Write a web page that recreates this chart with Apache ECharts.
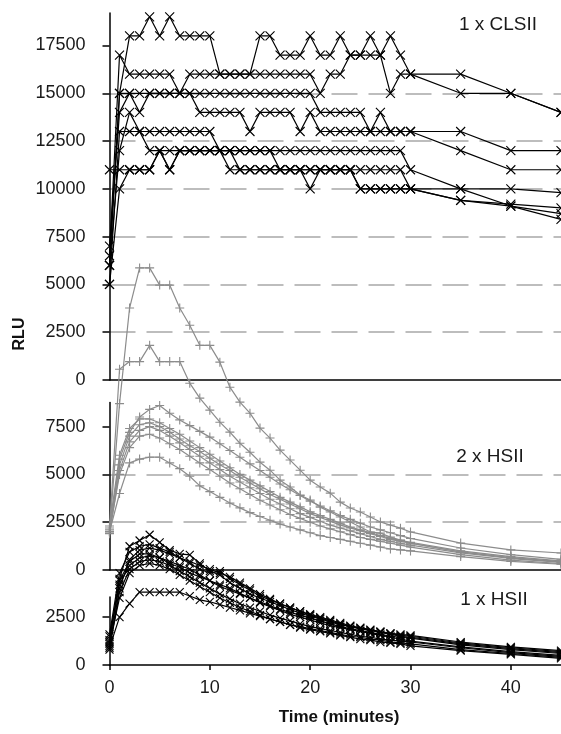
<!DOCTYPE html>
<html>
<head>
<meta charset="utf-8">
<script src="https://cdn.jsdelivr.net/npm/echarts@6/dist/echarts.min.js"></script>
<style>
html, body { margin: 0; padding: 0; background: #fff; }
#chart { width: 561px; height: 734px; }
</style>
</head>
<body>
<div id="chart"></div>
<script>
// time points (minutes)
var TIME = [0,1,2,3,4,5,6,7,8,9,10,11,12,13,14,15,16,17,18,19,20,21,22,23,24,25,26,27,28,29,30,35,40,45];

// 1 x CLSII (top panel, black x)
var CLS_1 = [6000,15000,18000,18000,19000,18000,19000,18000,18000,18000,18000,16000,16000,16000,16000,18000,18000,17000,17000,17000,18000,17000,17000,18000,17000,17000,18000,17000,18000,17000,16000,16000,15000,14000];
var CLS_2 = [6500,17000,16000,16000,16000,16000,16000,15000,16000,16000,16000,16000,16000,16000,16000,16000,16000,16000,16000,16000,16000,15000,16000,16000,17000,17000,17000,17000,15000,16000,16000,15000,15000,14000];
var CLS_3 = [7000,14000,15000,15000,15000,15000,15000,15000,15000,15000,15000,15000,15000,15000,15000,15000,15000,15000,15000,15000,15000,14000,14000,14000,14000,14000,13000,14000,13000,13000,13000,13000,12000,12000];
var CLS_4 = [6000,15000,15000,14000,15000,15000,15000,15000,15000,14000,14000,14000,14000,14000,13000,14000,14000,14000,14000,13000,14000,13000,13000,13000,13000,13000,13000,13000,13000,13000,13000,12000,11000,11000];
var CLS_5 = [11000,11000,11000,11000,11000,12000,11000,12000,12000,12000,12000,12000,12000,12000,12000,12000,12000,12000,12000,12000,12000,12000,12000,12000,12000,12000,12000,12000,12000,12000,11000,10000,10000,9800];
var CLS_6 = [5000,13000,13000,13000,13000,13000,13000,13000,13000,13000,13000,12000,12000,11000,11000,11000,11000,11000,11000,11000,10000,11000,11000,11000,11000,11000,11000,11000,11000,11000,10000,9400,9200,9000];
var CLS_7 = [6000,12000,14000,13000,12000,12000,12000,12000,12000,12000,12000,12000,12000,12000,12000,12000,12000,11000,11000,11000,11000,11000,11000,11000,11000,10000,10000,10000,10000,10000,10000,10000,9100,8700];
var CLS_8 = [5000,10000,11000,11000,11000,12000,11000,12000,12000,12000,12000,12000,11000,11000,11000,11000,11000,11000,11000,11000,11000,11000,11000,11000,11000,10000,10000,10000,10000,10000,10000,9400,9100,8400];

// 2 x HSII (middle panel, grey +)
var HS2_A = [2000,8700,13700,15800,15800,14900,14900,13700,12800,11750,11750,10870,9560,8780,8200,7420,6900,6270,5750,5220,4700,4340,4020,3550,3240,3030,2770,2510,2350,2190,1990,1410,1050,890];
var HS2_B = [2200,10500,10900,10900,11750,10900,10900,10900,9770,8990,8360,7730,7210,6630,6160,5640,5220,4700,4340,3920,3660,3290,3030,2770,2510,2250,1990,1930,1720,1570,1410,940,630,420];
var HS2_C = [2000,5800,7200,8000,8400,8600,8200,7850,7550,7250,6950,6600,6250,5900,5550,5200,4850,4500,4200,3900,3600,3350,3100,2850,2650,2450,2250,2100,1950,1800,1650,1150,800,560];
var HS2_D = [2300,6000,7400,7900,7900,7700,7400,7100,6750,6400,6050,5700,5350,5000,4700,4400,4100,3800,3550,3300,3050,2850,2650,2450,2250,2100,1950,1800,1650,1550,1450,1000,700,480];
var HS2_E = [2100,5500,7000,7600,7700,7500,7200,6850,6500,6200,5850,5500,5200,4850,4550,4250,3950,3700,3450,3200,2950,2750,2550,2350,2200,2050,1900,1750,1600,1500,1400,950,650,440];
var HS2_F = [1900,5200,6700,7300,7500,7300,7000,6650,6300,5950,5600,5250,4900,4600,4300,4000,3700,3450,3200,2950,2750,2550,2350,2200,2050,1900,1750,1600,1500,1400,1300,900,600,400];
var HS2_G = [2000,5000,6400,7000,7100,6900,6600,6300,5950,5600,5250,4900,4550,4250,3950,3650,3400,3150,2900,2700,2500,2300,2150,2000,1850,1700,1600,1500,1400,1300,1200,800,520,330];
var HS2_H = [2000,4000,5600,5800,5900,5900,5600,5300,4900,4400,4100,3800,3500,3250,3000,2800,2600,2400,2250,2100,1950,1800,1700,1600,1500,1400,1300,1200,1100,1050,1000,700,450,300];

// 1 x HSII (bottom panel, black x)
var HS1_1 = [1200,4500,6200,6500,6800,6400,6000,5800,5750,5300,4900,4700,4300,4000,3700,3500,3300,3100,2900,2700,2550,2400,2250,2100,2000,1900,1800,1700,1650,1550,1500,1150,900,700];
var HS1_2 = [1000,4000,5500,6000,6100,6000,5800,5600,5400,5200,5000,4800,4600,4300,4000,3700,3450,3200,3000,2800,2600,2450,2300,2150,2000,1900,1800,1700,1600,1500,1450,1100,850,650];
var HS1_3 = [1500,4200,5200,5600,5700,5600,5400,5200,5000,4700,4400,4100,3900,3700,3500,3300,3100,2900,2750,2600,2450,2300,2150,2000,1900,1800,1700,1600,1500,1450,1400,1050,800,600];
var HS1_4 = [800,3800,5000,5400,5500,5400,5200,4900,4600,4300,4000,3700,3450,3200,3000,2800,2600,2450,2300,2150,2000,1900,1800,1700,1600,1500,1450,1350,1300,1250,1200,900,650,450];
var HS1_5 = [1300,4400,5400,5800,5800,5600,5300,5100,4800,4600,4400,4200,4000,3750,3500,3250,3050,2850,2650,2500,2350,2200,2050,1950,1850,1750,1650,1550,1450,1350,1250,950,700,500];
var HS1_6 = [1100,3500,4800,5200,5300,5200,5000,4700,4400,4100,3800,3500,3250,3000,2800,2600,2400,2250,2100,1950,1850,1750,1650,1550,1450,1350,1300,1200,1150,1100,1000,750,550,350];
var HS1_7 = [1600,4800,5900,6200,6300,6100,5900,5600,5300,5000,4800,4900,4500,4200,3900,3600,3400,3200,3000,2800,2650,2500,2350,2200,2050,1950,1850,1750,1650,1600,1550,1200,950,750];
var HS1_8 = [900,2500,3200,3800,3800,3800,3800,3800,3600,3400,3300,3150,3000,2850,2700,2550,2400,2250,2100,2000,1900,1800,1700,1600,1500,1450,1350,1300,1200,1150,1100,800,600,400];

// tick labels per panel
var TICKS_TOP = [0,2500,5000,7500,10000,12500,15000,17500];
var TICKS_MID = [0,2500,5000,7500];
var TICKS_BOT = [0,2500];

var FONT = '"Liberation Sans", Arial, sans-serif';
var CROSS = 'path://M0,0L10,10M10,0L0,10';
var PLUS = 'path://M5,0L5,10M0,5L10,5';

var myChart = echarts.init(document.getElementById('chart'));

function yAxisFor(gi, max, ticks) {
    return {
        type: 'value', gridIndex: gi, min: 0, max: max, interval: 2500,
        axisLine: { show: true, lineStyle: { color: '#000', width: 1.5 } },
        axisTick: { show: true, length: 7, customValues: ticks, lineStyle: { color: '#000', width: 1.5 } },
        axisLabel: {
            customValues: ticks, margin: 24, fontSize: 18, color: '#1a1a1a', fontFamily: FONT,
            formatter: function (v) { return String(v); }
        },
        splitLine: {
            show: true, showMinLine: false, showMaxLine: false,
            lineStyle: { color: '#a8a8a8', width: 1.5, type: [26, 11] }
        }
    };
}

function xAxisFor(gi, labels) {
    return {
        type: 'value', gridIndex: gi, min: 0, max: 45, interval: 10,
        axisLine: { show: true, lineStyle: { color: '#000', width: 1.5 } },
        axisTick: { show: labels, length: 5, lineStyle: { color: '#000', width: 1.5 } },
        axisLabel: { show: labels, margin: 14, fontSize: 18, color: '#1a1a1a', fontFamily: FONT, showMaxLabel: false },
        splitLine: { show: false }
    };
}

function lineSeries(vals, gi, color, sym, size) {
    return {
        type: 'line', xAxisIndex: gi, yAxisIndex: gi,
        data: TIME.map(function (t, i) { return [t, vals[i]]; }),
        symbol: sym, symbolSize: size, showSymbol: true, clip: false,
        lineStyle: { color: color, width: 1.2 },
        itemStyle: { color: 'none', borderColor: color, borderWidth: 1.1 },
        silent: true
    };
}

var topSet = [CLS_1, CLS_2, CLS_3, CLS_4, CLS_5, CLS_6, CLS_7, CLS_8];
var midSet = [HS2_A, HS2_B, HS2_C, HS2_D, HS2_E, HS2_F, HS2_G, HS2_H];
var botSet = [HS1_1, HS1_2, HS1_3, HS1_4, HS1_5, HS1_6, HS1_7, HS1_8];

var series = [];
topSet.forEach(function (v) { series.push(lineSeries(v, 0, '#000', CROSS, 9)); });
midSet.forEach(function (v) { series.push(lineSeries(v, 1, '#8c8c8c', PLUS, 9)); });
botSet.forEach(function (v) { series.push(lineSeries(v, 2, '#000', CROSS, 8)); });

var option = {
    animation: false,
    backgroundColor: '#fff',
    grid: [
        { left: 109.5, top: 13, width: 454, height: 367 },
        { left: 109.5, top: 402.5, width: 454, height: 167.5 },
        { left: 109.5, top: 597, width: 454, height: 68 }
    ],
    xAxis: [xAxisFor(0, false), xAxisFor(1, false), xAxisFor(2, true)],
    yAxis: [yAxisFor(0, 19200, TICKS_TOP), yAxisFor(1, 8760, TICKS_MID), yAxisFor(2, 3550, TICKS_BOT)],
    graphic: [
        { type: 'text', x: 498, y: 25, style: { text: '1 x CLSII', fill: '#1a1a1a', font: '19px ' + FONT, align: 'center', verticalAlign: 'middle' } },
        { type: 'text', x: 490, y: 457, style: { text: '2 x HSII', fill: '#1a1a1a', font: '19px ' + FONT, align: 'center', verticalAlign: 'middle' } },
        { type: 'text', x: 494, y: 600, style: { text: '1 x HSII', fill: '#1a1a1a', font: '19px ' + FONT, align: 'center', verticalAlign: 'middle' } },
        { type: 'text', x: 20, y: 334, rotation: Math.PI / 2, style: { text: 'RLU', fill: '#111', font: 'bold 16px ' + FONT, align: 'center', verticalAlign: 'middle' } },
        { type: 'text', x: 339, y: 717, style: { text: 'Time (minutes)', fill: '#111', font: 'bold 17px ' + FONT, align: 'center', verticalAlign: 'middle' } }
    ],
    series: series
};

myChart.setOption(option);
</script>
</body>
</html>
